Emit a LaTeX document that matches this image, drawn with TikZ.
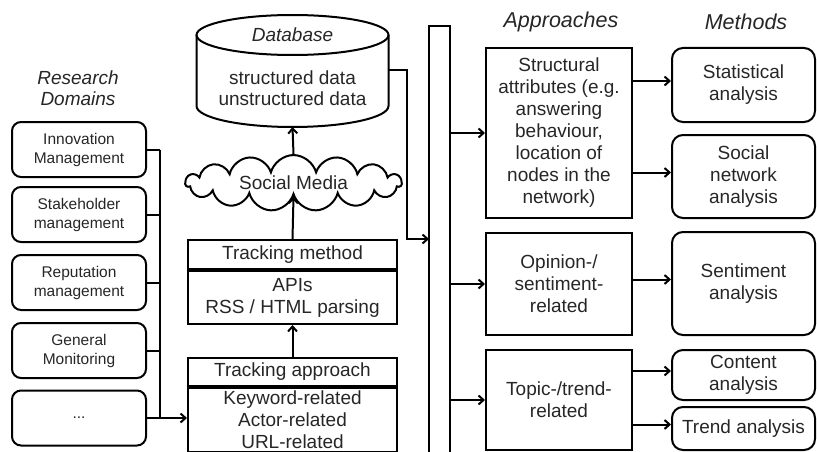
\documentclass[tikz,border=0pt]{standalone}
\usepackage{fontspec}
\setmainfont{Liberation Sans}
\usetikzlibrary{arrows.meta,shapes.symbols}
\begin{document}
\begin{tikzpicture}[x=1pt,y=-1pt,
 line width=2pt,
 every node/.style={inner sep=0pt, text=black!85},
 >={Straight Barb[length=5pt,width=9pt]},
 f19/.style={font=\fontsize{19}{22}\selectfont},
 box/.style={draw, f19, align=center},
 rbox/.style={box, rounded corners=11pt},
 dbox/.style={draw, rounded corners=9pt, align=center, font=\fontsize{15.5}{19}\selectfont, minimum width=134pt, minimum height=55pt},
 hdr/.style={font=\fontsize{21.5}{24}\selectfont\itshape, align=center},
]
\useasboundingbox (0,0) rectangle (817,452);

% Research domains
\node[hdr, font=\fontsize{19}{21}\selectfont\itshape] (rd) at (78,88) {Research\\Domains};
\node[dbox] (d1) at (79,149.5) {Innovation\\Management};
\node[dbox] (d2) at (79,214.5) {Stakeholder\\management};
\node[dbox] (d3) at (79,282.5) {Reputation\\management};
\node[dbox] (d4) at (79,350.5) {General\\Monitoring};
\node[dbox] (d5) at (79,418) {...};

% Tracking approach / method
\node[box, minimum width=209pt, minimum height=28pt] (tah) at (292.5,372) {Tracking approach};
\node[box, minimum width=209pt, minimum height=64pt, anchor=north] (tab) at (tah.south) {Keyword-related\\Actor-related\\URL-related};
\node[box, minimum width=209pt, minimum height=29pt] (tmh) at (292.5,254.5) {Tracking method};
\node[box, minimum width=209pt, minimum height=53pt, anchor=north] (tmb) at (tmh.south) {APIs\\RSS / HTML parsing};

% Social media cloud
\node[cloud, draw, cloud puffs=15, aspect=4.8, minimum width=216pt, minimum height=46pt, f19] (sm) at (293.5,183) {Social Media};

% Database cylinder
\draw (196.5,35) -- (196.5,106) arc[start angle=180, end angle=360, x radius=96pt, y radius=21pt] -- (388.5,35);
\draw (292.5,35) ellipse[x radius=96pt, y radius=20pt];
\node[f19, font=\fontsize{19}{22}\selectfont\itshape] (dbl) at (292.5,35) {Database};
\node[align=center, font=\fontsize{19}{21}\selectfont] (dbt) at (292.5,88) {structured data\\unstructured data};
\coordinate (dbR) at (388.5,70);
\coordinate (dbB) at (292.5,127);

% Bar
\node[minimum width=19pt, minimum height=426pt, anchor=north west] (bar) at (429,26) {};
\draw (bar.south west) -- (bar.north west) -- (bar.north east) -- (bar.south east);

% Approaches
\node[hdr] (hap) at (561,22) {Approaches};
\node[box, minimum width=146pt, minimum height=170pt] (a1) at (559,133) {Structural\\attributes (e.g.\\answering\\behaviour,\\location of\\nodes in the\\network)};
\node[box, minimum width=146pt, minimum height=102pt] (a2) at (559,284) {Opinion-/\\sentiment-\\related};
\node[box, minimum width=146pt, minimum height=100pt] (a3) at (559,400) {Topic-/trend-\\related};

% Methods
\node[hdr] (hme) at (746,22) {Methods};
\node[rbox, minimum width=143pt, minimum height=74pt] (m1) at (743.5,85) {Statistical\\analysis};
\node[rbox, minimum width=143pt, minimum height=83pt] (m2) at (743.5,176.5) {Social\\network\\analysis};
\node[rbox, minimum width=143pt, minimum height=103pt] (m3) at (743.5,283.5) {Sentiment\\analysis};
\node[rbox, minimum width=143pt, minimum height=50pt] (m4) at (743.5,375) {Content\\analysis};
\node[rbox, minimum width=143pt, minimum height=43pt] (m5) at (743.5,428.5) {Trend analysis};

% Connectors: domains bus
\coordinate (bus) at (160,0);
\foreach \i in {1,...,4} \draw (d\i.east) -- (d\i.east -| bus);
\draw (d1.east -| bus) -- (d5.east -| bus);
\draw[->] (d5.east) -- (d5.east -| tab.west);

% vertical flow
\draw[->] (tah.north) -- (tmb.south);
\draw[->] (tmh.north) -- (sm.south);
\draw[->] (sm.north) -- (dbB);
\coordinate (dbe) at (407,239);
\draw[->] (dbR) -| (dbe) -- (dbe -| bar.west);

% bar to approaches
\draw[->] (a1.west -| bar.east) -- (a1.west);
\draw[->] (a2.west -| bar.east) -- (a2.west);
\draw[->] (a3.west -| bar.east) -- (a3.west);

% approaches to methods
\foreach \m/\a in {m1/a1, m2/a1, m3/a2, m4/a3, m5/a3} {
  \path (\m.west) ++(0,-4) coordinate (\m t);
  \draw[->] (\a.east |- \m t) -- (\m t);
}
\end{tikzpicture}
\end{document}
